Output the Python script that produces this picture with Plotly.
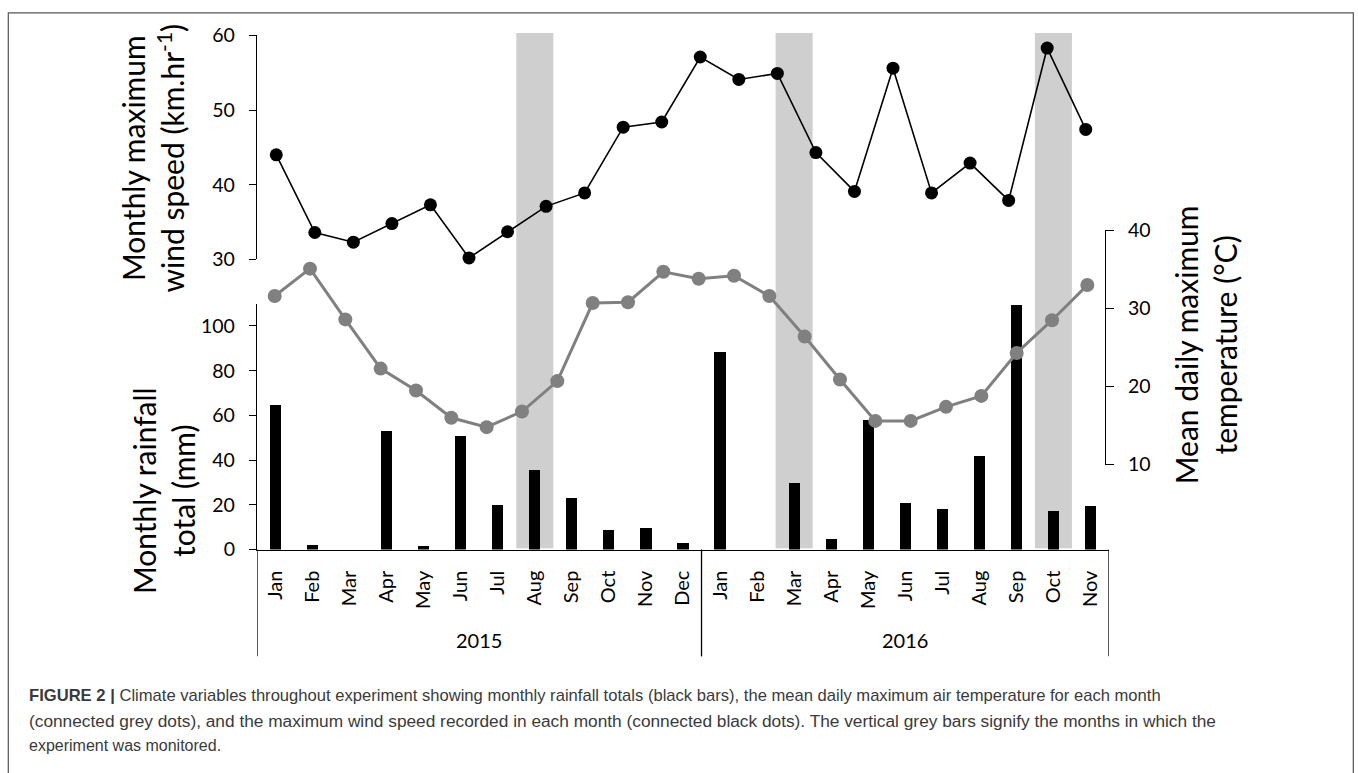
import plotly.graph_objects as go

# ---------------- data ----------------
months_2015 = ["Jan", "Feb", "Mar", "Apr", "May", "Jun", "Jul", "Aug", "Sep", "Oct", "Nov", "Dec"]
months_2016 = ["Jan", "Feb", "Mar", "Apr", "May", "Jun", "Jul", "Aug", "Sep", "Oct", "Nov"]
years = ["2015", "2016"]
rainfall_mm = [65.0, 2.0, 0.0, 53.4, 1.7, 51.0, 20.2, 35.8, 23.3, 8.7, 9.9, 3.2,
               88.7, 0.0, 29.7, 5.0, 58.2, 20.8, 18.5, 41.8, 109.7, 17.2, 19.7]
# connected black dots (22 points as drawn)
wind_kmh = [44.0, 33.6, 32.3, 34.8, 37.3, 30.2, 33.7, 37.1, 38.9, 47.7, 48.4,
            57.1, 54.1, 54.9, 44.3, 39.1, 55.6, 38.9, 42.9, 37.9, 58.3, 47.4]
# connected grey dots (24 points as drawn)
temp_c = [31.6, 35.1, 28.6, 22.3, 19.5, 16.0, 14.8, 16.8, 20.7, 30.7, 30.8, 34.7,
          33.8, 34.2, 31.6, 26.4, 20.9, 15.6, 15.6, 17.4, 18.8, 24.3, 28.5, 33.0]
monitored = [("2015", "Aug"), ("2016", "Mar"), ("2016", "Oct")]
rain_ticks = [0, 20, 40, 60, 80, 100]
wind_ticks = [30, 40, 50, 60]
temp_ticks = [10, 20, 30, 40]

caption_lines = [
    "<b>FIGURE 2 |</b> Climate variables throughout experiment showing monthly rainfall totals (black bars), the mean daily maximum air temperature for each month",
    "(connected grey dots), and the maximum wind speed recorded in each month (connected black dots). The vertical grey bars signify the months in which the",
    "experiment was monitored.",
]
caption_sizes = [16.6, 17.3, 16.0]

# ---------------- layout helpers ----------------
W, H = 1358, 773
Y_OFF, Y_SCALE = 11.3, 0.9715   # observed placement of the figure in the captured page

def px(x):
    return x / W

def py(y):
    yf = (y - Y_OFF) / Y_SCALE
    return (H - yf) / H

month_labels = months_2015 + months_2016
year_of = [years[0]] * len(months_2015) + [years[1]] * len(months_2016)
idx = list(range(len(month_labels)))

FONT = "Lato, 'Open Sans', sans-serif"
fig = go.Figure()

fig.add_trace(go.Bar(x=idx, y=rainfall_mm, width=0.3, marker=dict(color="black", line=dict(width=0)),
                     xaxis="x", yaxis="y", showlegend=False))
fig.add_trace(go.Scatter(x=list(range(len(temp_c))), y=temp_c, mode="lines+markers",
                         line=dict(color="#808080", width=3), marker=dict(color="#808080", size=14),
                         xaxis="x3", yaxis="y3", cliponaxis=False, showlegend=False))
fig.add_trace(go.Scatter(x=list(range(len(wind_kmh))), y=wind_kmh, mode="lines+markers",
                         line=dict(color="black", width=1.6), marker=dict(color="black", size=13),
                         xaxis="x2", yaxis="y2", cliponaxis=False, showlegend=False))

shapes = []
for (yr, mo) in monitored:
    i = [k for k in idx if year_of[k] == yr and month_labels[k] == mo][0]
    shapes.append(dict(type="rect", xref="x", yref="paper", x0=i - 0.5, x1=i + 0.5,
                       y0=py(548.3), y1=py(32.3), fillcolor="#cfcfd0", line=dict(width=0), layer="below"))
bounds = [-0.5, len(months_2015) - 0.5, len(month_labels) - 0.5]
for b in bounds:
    shapes.append(dict(type="line", xref="x", yref="paper", x0=b, x1=b, y0=py(549.5), y1=py(656.5),
                       line=dict(color="black", width=1.3)))
# outer frame
shapes.append(dict(type="rect", xref="paper", yref="paper", x0=px(8.3), x1=px(1353.3), y0=-0.05, y1=0.9988,
                   line=dict(color="#555555", width=1.2), fillcolor="rgba(0,0,0,0)", layer="below"))

annotations = []
for k, yr in enumerate(years):
    members = [i for i in idx if year_of[i] == yr]
    annotations.append(dict(x=sum(members) / len(members), y=py(640.5), xref="x", yref="paper",
                            text=yr, showarrow=False, font=dict(family=FONT, size=20, color="black"),
                            xanchor="center", yanchor="middle"))
TFONT = dict(family=FONT, size=30, color="black")
annotations.append(dict(x=px(153), y=py(158), xref="paper", yref="paper", textangle=-90,
                        text="Monthly maximum<br>wind speed (km.hr<sup>-1</sup>)", showarrow=False,
                        font=TFONT, xanchor="center", yanchor="middle"))
annotations.append(dict(x=px(163), y=py(491), xref="paper", yref="paper", textangle=-90,
                        text="Monthly rainfall<br>total (mm)", showarrow=False,
                        font=TFONT, xanchor="center", yanchor="middle"))
annotations.append(dict(x=px(1205), y=py(345), xref="paper", yref="paper", textangle=-90,
                        text="Mean daily maximum<br>temperature (°C)", showarrow=False,
                        font=TFONT, xanchor="center", yanchor="middle"))
for line, yc, fs in zip(caption_lines, [696, 721, 745.5], caption_sizes):
    annotations.append(dict(x=px(27), y=py(yc), xref="paper", yref="paper", text=line, showarrow=False,
                            font=dict(family="'Liberation Sans', Arial, sans-serif", size=fs, color="#3a3a3a"),
                            xanchor="left", yanchor="middle", align="left"))

axis_common = dict(showgrid=False, zeroline=False, linecolor="black", linewidth=1.3,
                   tickcolor="black", tickwidth=1.3)
TICKFONT = dict(family=FONT, size=19.5, color="black")

fig.update_layout(
    width=W, height=H, margin=dict(l=0, r=0, t=0, b=0),
    paper_bgcolor="white", plot_bgcolor="rgba(0,0,0,0)",
    xaxis=dict(domain=[px(257), px(1109)], range=[-0.5, len(month_labels) - 0.5], anchor="y",
               tickvals=idx, ticktext=month_labels, tickangle=-90, ticks="", showline=True,
               ticklabelstandoff=12, tickfont=dict(family=FONT, size=20, color="black"), **axis_common),
    yaxis=dict(domain=[py(549.5), py(303.3)], range=[0, 110], anchor="x", tickvals=rain_ticks,
               ticks="outside", ticklen=7, showline=True, ticklabelstandoff=10, tickfont=TICKFONT, **axis_common),
    xaxis2=dict(domain=[px(257), px(1105)], range=[-0.5, len(wind_kmh) - 0.5], anchor="y2", visible=False),
    yaxis2=dict(domain=[py(259), py(34.7)], range=[30, 60], anchor="x2", tickvals=wind_ticks,
                ticks="outside", ticklen=7, showline=True, ticklabelstandoff=10, tickfont=TICKFONT, **axis_common),
    xaxis3=dict(domain=[px(257), px(1105)], range=[-0.5, len(temp_c) - 0.5], anchor="y3", visible=False),
    yaxis3=dict(domain=[py(464.5), py(230)], range=[10, 40], anchor="x3", side="right", tickvals=temp_ticks,
                ticks="outside", ticklen=8, showline=True, ticklabelstandoff=10, tickfont=TICKFONT, **axis_common),
    shapes=shapes, annotations=annotations, bargap=0,
)

fig.write_html("out.html", config={"displayModeBar": False},
               post_script="document.body.style.margin='0';document.body.style.overflow='hidden';")
